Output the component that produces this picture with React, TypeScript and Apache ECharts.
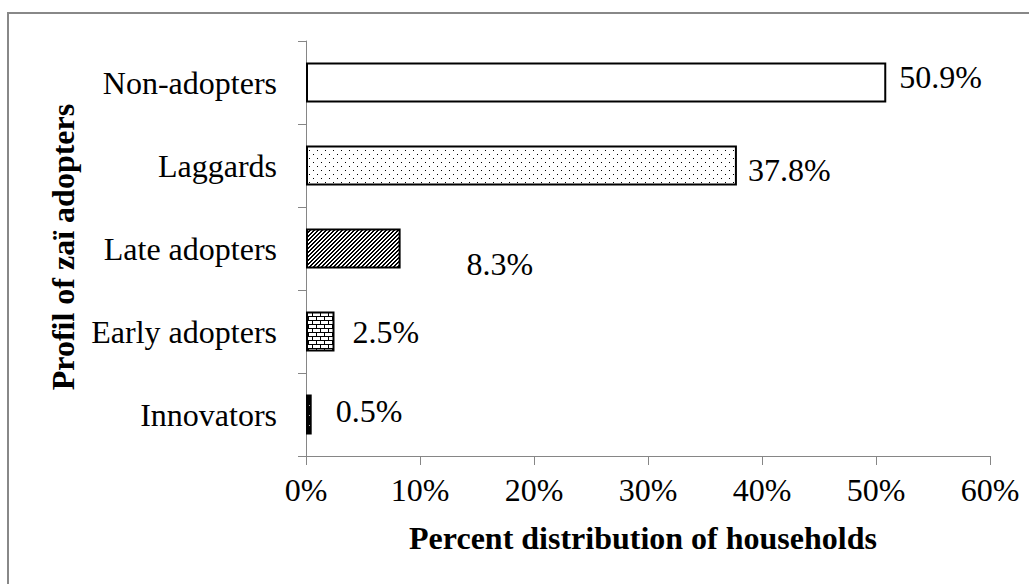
import React, { useEffect, useRef } from "react";
import * as echarts from "echarts";

const categories = ["Non-adopters", "Laggards", "Late adopters", "Early adopters", "Innovators"];
const values = [50.9, 37.8, 8.3, 2.5, 0.5];
const xMin = 0;
const xMax = 60;
const xInterval = 10;
const yTitle = "Profil of zaï adopters";
const xTitle = "Percent distribution of households";

// label offsets (style only)
const labelOffsets: [number, number][] = [
  [8, -6],
  [6, 4],
  [61, 15],
  [13, 0],
  [19, -4],
];

const FONT = "'Liberation Serif', 'Times New Roman', serif";

function makeTile(w: number, h: number, draw: (ctx: CanvasRenderingContext2D) => void) {
  const c = document.createElement("canvas");
  c.width = w;
  c.height = h;
  const ctx = c.getContext("2d")!;
  draw(ctx);
  return { image: c.toDataURL(), imageWidth: w, imageHeight: h, repeat: "repeat" };
}

export default function App() {
  const ref = useRef<HTMLDivElement>(null);
  useEffect(() => {
    document.body.style.margin = "0";
    const chart = echarts.init(ref.current!, null, { renderer: "svg" });

    const dots = makeTile(8, 8, (ctx) => {
      ctx.fillStyle = "#fff";
      ctx.fillRect(0, 0, 8, 8);
      ctx.fillStyle = "#000";
      ctx.fillRect(1, 2, 1, 1);
      ctx.fillRect(5, 6, 1, 1);
    });
    const hatch = makeTile(4, 4, (ctx) => {
      ctx.fillStyle = "#fff";
      ctx.fillRect(0, 0, 4, 4);
      ctx.fillStyle = "#000";
      for (let i = 0; i < 4; i++) {
        ctx.fillRect(i, 3 - i, 1, 1);
        ctx.fillRect((i + 1) % 4, 3 - i, 1, 1);
      }
    });
    const brick = makeTile(8, 8, (ctx) => {
      ctx.fillStyle = "#fff";
      ctx.fillRect(0, 0, 8, 8);
      ctx.fillStyle = "#000";
      ctx.fillRect(0, 0, 8, 1);
      ctx.fillRect(0, 4, 8, 1);
      ctx.fillRect(0, 0, 1, 4);
      ctx.fillRect(4, 4, 1, 4);
    });
    const blackDots = makeTile(6, 10, (ctx) => {
      ctx.fillStyle = "#000";
      ctx.fillRect(0, 0, 6, 10);
      ctx.fillStyle = "#fff";
      ctx.fillRect(3, 5, 1, 1);
    });
    const fills: any[] = ["#ffffff", dots, hatch, brick, blackDots];

    chart.setOption({
      animation: false,
      backgroundColor: "#ffffff",
      grid: { left: 306, top: 41, width: 684, height: 415, containLabel: false },
      xAxis: {
        type: "value",
        min: xMin,
        max: xMax,
        interval: xInterval,
        axisLine: { show: true, lineStyle: { color: "#868686", width: 1 } },
        axisTick: { show: true, length: 9, lineStyle: { color: "#868686" } },
        splitLine: { show: false },
        axisLabel: {
          formatter: (v: number) => v + "%",
          color: "#000",
          fontFamily: FONT,
          fontSize: 32,
          margin: 18,
        },
      },
      yAxis: {
        type: "category",
        data: categories,
        inverse: true,
        axisLine: { show: true, lineStyle: { color: "#868686", width: 1 } },
        axisTick: { show: true, length: 8, alignWithLabel: false, lineStyle: { color: "#868686" } },
        axisLabel: {
          color: "#000",
          fontFamily: FONT,
          fontSize: 32,
          margin: 29,
        },
        splitLine: { show: false },
      },
      series: [
        {
          type: "bar",
          barWidth: 40,
          data: values.map((v, i) => ({
            value: v,
            itemStyle: { color: fills[i], borderColor: "#000", borderWidth: 2 },
            label: { offset: labelOffsets[i] },
          })),
          label: {
            show: true,
            position: "right",
            distance: 5,
            formatter: (p: any) => p.value.toFixed(1) + "%",
            color: "#000",
            fontFamily: FONT,
            fontSize: 32,
          },
        },
      ],
      graphic: [
        {
          type: "rect",
          shape: { x: 8, y: 13, width: 1100, height: 700 },
          style: { fill: "none", stroke: "#888888", lineWidth: 2 },
          silent: true,
        },
        {
          type: "text",
          x: 63,
          y: 247,
          rotation: Math.PI / 2,
          style: {
            text: yTitle,
            font: `bold 32px ${FONT}`,
            fill: "#000",
            align: "center",
            verticalAlign: "middle",
          },
        },
        {
          type: "text",
          x: 643,
          y: 538,
          style: {
            text: xTitle,
            font: `bold 32px ${FONT}`,
            fill: "#000",
            align: "center",
            verticalAlign: "middle",
          },
        },
      ],
    });
    return () => chart.dispose();
  }, []);
  return <div ref={ref} style={{ width: 1029, height: 584 }} />;
}
